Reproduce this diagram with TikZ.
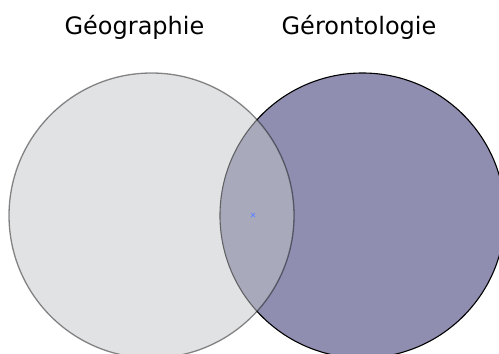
\documentclass[tikz,border=0pt]{standalone}
\usepackage{fontspec}
\setmainfont{DejaVu Sans}
\begin{document}
\begin{tikzpicture}[x=1pt,y=-1pt,
  settitle/.style={font=\fontsize{24}{28}\selectfont, anchor=base, inner sep=0pt},
  setright/.style={fill=rightfill, draw=black, line width=1.1pt},
  setleft/.style={fill=leftfill, fill opacity=0.5, draw=black, draw opacity=0.45, line width=1.3pt},
  centermark/.style={draw=markblue, line width=0.9pt}]
\definecolor{rightfill}{RGB}{143,141,176}
\definecolor{leftfill}{RGB}{195,197,201}
\definecolor{markblue}{RGB}{100,135,255}
\useasboundingbox (0,0) rectangle (499,354);
\begin{scope}
\clip (0,0) rectangle (499,354);
\node[circle, minimum size=285pt, inner sep=0pt, setright] (B) at (362.5,215.5) {};
\node[circle, minimum size=285pt, inner sep=0pt, setleft] (A) at (151.5,215.5) {};
\coordinate (M) at (253,215);
\draw[centermark] ([shift={(-2,-2)}]M) -- ([shift={(2,2)}]M) ([shift={(-2,2)}]M) -- ([shift={(2,-2)}]M);
\end{scope}
\node[settitle] (tA) at (134.5,34.5) {Géographie};
\node[settitle] (tB) at (359,34.5) {Gérontologie};
\end{tikzpicture}
\end{document}
